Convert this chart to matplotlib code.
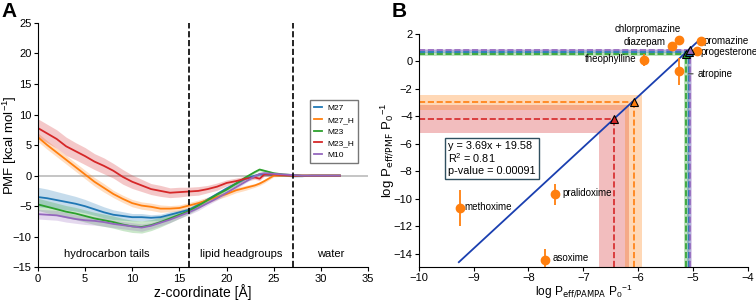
import matplotlib.pyplot as plt
import numpy as np

plt.rcParams["font.family"] = "Liberation Sans"
plt.rcParams["mathtext.default"] = "regular"
plt.rcParams["font.size"] = 8

# ---- panel A data: PMF profiles ----
z = [0, 1, 2, 3, 4, 5, 6, 7, 8, 9, 10, 11, 12, 13, 14, 15, 16, 17, 18,
     19, 20, 21, 22, 23, 23.5, 24, 25, 26, 27, 28, 29, 30, 31, 32]
series = ["M27", "M27_H", "M23", "M23_H", "M10"]
colors = ["#1f77b4", "#ff7f0e", "#2ca02c", "#d62728", "#9467bd"]

pmf_m27 = [-3.5, -3.7, -4.0, -4.3, -4.6, -5.0, -5.5, -6.0, -6.4, -6.6, -6.8, -6.8,
           -6.9, -6.8, -6.4, -6.0, -5.6, -4.8, -3.9, -3.0, -2.1, -1.3, -0.5, 0.0,
           0.2, 0.2, 0.1, 0.0, -0.1, -0.1, 0.0, 0.0, 0.0, 0.0]
pmf_m27h = [6.3, 5.0, 3.8, 2.6, 1.4, 0.2, -1.0, -2.0, -3.0, -3.8, -4.5, -4.9,
            -5.1, -5.4, -5.4, -5.3, -4.9, -4.5, -4.0, -3.5, -3.0, -2.4, -2.0, -1.6,
            -1.3, -0.9, 0.0, 0.0, 0.0, 0.0, 0.0, 0.0, 0.0, 0.0]
pmf_m23 = [-4.7, -5.1, -5.5, -5.9, -6.2, -6.6, -7.0, -7.3, -7.6, -8.0, -8.3, -8.4,
           -8.1, -7.6, -7.0, -6.4, -5.8, -4.9, -4.0, -3.1, -2.3, -1.3, -0.3, 0.6,
           1.0, 0.8, 0.4, 0.2, 0.1, 0.0, 0.0, 0.0, 0.0, 0.0]
pmf_m23h = [7.8, 6.9, 6.0, 4.8, 4.0, 3.2, 2.3, 1.6, 0.8, -0.2, -1.0, -1.6,
            -2.2, -2.5, -2.8, -2.7, -2.6, -2.5, -2.2, -1.8, -1.2, -0.9, -0.5, -0.3,
            -0.5, 0.2, 0.2, 0.1, 0.0, 0.0, 0.0, 0.0, 0.0, 0.0]
pmf_m10 = [-6.3, -6.4, -6.5, -6.8, -7.1, -7.3, -7.4, -7.6, -7.9, -8.1, -8.3, -8.5,
           -8.2, -7.7, -7.2, -6.6, -6.0, -5.3, -4.5, -3.7, -2.8, -1.9, -1.0, -0.1,
           0.3, 0.4, 0.3, 0.2, 0.1, 0.0, 0.0, 0.0, 0.0, 0.0]
pmf = [pmf_m27, pmf_m27h, pmf_m23, pmf_m23h, pmf_m10]

# half-width of the shaded bands at the same z points
err_m27 = [1.6, 1.5, 1.4, 1.3, 1.2, 1.1, 1.0, 0.9, 0.8, 0.7, 0.6, 0.6, 0.5, 0.5,
           0.5, 0.4, 0.4, 0.4, 0.3, 0.3, 0.3, 0.3, 0.2, 0.2, 0.2, 0.2, 0.1, 0.1,
           0.1, 0.0, 0.0, 0.0, 0.0, 0.0]
err_m27h = [0.7, 0.7, 0.7, 0.7, 0.7, 0.7, 0.7, 0.7, 0.6, 0.6, 0.6, 0.6, 0.6, 0.6,
            0.5, 0.5, 0.5, 0.5, 0.5, 0.4, 0.4, 0.4, 0.4, 0.3, 0.3, 0.3, 0.2, 0.1,
            0.1, 0.0, 0.0, 0.0, 0.0, 0.0]
err_m23 = [1.0, 1.0, 1.0, 1.0, 1.0, 1.0, 1.0, 1.0, 1.0, 1.0, 1.0, 1.0, 0.9, 0.8,
           0.7, 0.6, 0.5, 0.5, 0.4, 0.4, 0.3, 0.3, 0.3, 0.2, 0.2, 0.2, 0.1, 0.1,
           0.1, 0.0, 0.0, 0.0, 0.0, 0.0]
err_m23h = [1.5, 1.5, 1.5, 1.5, 1.4, 1.4, 1.3, 1.3, 1.2, 1.2, 1.1, 1.0, 0.9, 0.9,
            0.8, 0.8, 0.7, 0.7, 0.6, 0.6, 0.5, 0.5, 0.4, 0.3, 0.3, 0.3, 0.2, 0.1,
            0.1, 0.0, 0.0, 0.0, 0.0, 0.0]
err_m10 = [0.8, 0.8, 0.8, 0.8, 0.7, 0.7, 0.7, 0.7, 0.6, 0.6, 0.6, 0.6, 0.5, 0.5,
           0.5, 0.4, 0.4, 0.4, 0.3, 0.3, 0.3, 0.3, 0.2, 0.2, 0.2, 0.2, 0.1, 0.1,
           0.1, 0.0, 0.0, 0.0, 0.0, 0.0]
pmf_err = [err_m27, err_m27h, err_m23, err_m23h, err_m10]

region_bounds = [16, 27]
region_names = ["hydrocarbon tails", "lipid headgroups", "water"]
region_x = [7.3, 21.5, 31.0]

# ---- panel B data ----
drugs = ["chlorpromazine", "diazepam", "promazine", "progesterone", "theophylline",
         "atropine", "pralidoxime", "methoxime", "asoxime"]
log_pampa = [-5.25, -5.38, -4.86, -4.92, -5.90, -5.25, -7.51, -9.25, -7.69]
log_pmf = [1.58, 1.10, 1.46, 0.73, 0.12, -0.73, -9.69, -10.67, -14.44]
log_pmf_err = [0.0, 0.0, 0.0, 0.0, 0.45, 0.95, 0.75, 1.3, 0.8]

slope, intercept = 3.69, 19.58
fit_x = [-9.27, -4.93]

# predicted permeabilities for the simulated molecules
pred_x = [-6.44, -6.08, -5.12, -5.07, -5.05]
pred_y = [-4.22, -2.98, 0.55, 0.72, 0.82]
pred_x_err = [0.28, 0.16, 0.05, 0.04, 0.04]
pred_y_err = [1.02, 0.55, 0.15, 0.12, 0.12]
pred_names = ["M23_H", "M27_H", "M23", "M27", "M10"]
pred_colors = ["#d62728", "#ff7f0e", "#2ca02c", "#1f77b4", "#9467bd"]

fig = plt.figure(figsize=(7.56, 3.01), dpi=100)
axA = fig.add_axes([0.050, 0.112, 0.437, 0.812])
axB = fig.add_axes([0.554, 0.112, 0.435, 0.775])

# ---- panel A ----
axA.axhline(0, color="#bbbbbb", lw=1.2, zorder=1)
for name, c, y, e in zip(series, colors, pmf, pmf_err):
    y = np.array(y)
    e = np.array(e)
    axA.fill_between(z, y - e, y + e, color=c, alpha=0.25, lw=0)
    axA.plot(z, y, color=c, lw=1.3, label=name)
for b in region_bounds:
    axA.axvline(b, color="k", ls="--", lw=1.2)
for name, xr in zip(region_names, region_x):
    axA.text(xr, -12.9, name, ha="center", va="center", fontsize=8)
axA.set_xlim(0, 35)
axA.set_ylim(-15, 25)
axA.set_xticks(range(0, 36, 5))
axA.set_yticks(range(-15, 26, 5))
axA.set_xlabel("z-coordinate [Å]", fontsize=10, labelpad=0)
axA.set_ylabel("PMF [kcal mol$^{-1}$]", fontsize=9.5)
axA.yaxis.set_label_coords(-0.058, 0.5)
leg = axA.legend(loc="upper left", bbox_to_anchor=(0.81, 0.70), fontsize=6,
                 handlelength=1.0, handletextpad=0.6, frameon=True, fancybox=False,
                 borderpad=0.5, labelspacing=0.45)
leg.get_frame().set_edgecolor("#555555")
for s in ["top", "right"]:
    axA.spines[s].set_visible(False)
fig.text(0.002, 0.995, "A", fontsize=15, fontweight="bold", va="top", ha="left")

# ---- panel B ----
for px, py, ex, ey, c in zip(pred_x, pred_y, pred_x_err, pred_y_err, pred_colors):
    axB.fill_between([-10, px + ex], py - ey, py + ey, color=c, alpha=0.3, lw=0)
    axB.fill_between([px - ex, px + ex], -15, py - ey, color=c, alpha=0.3, lw=0)
    axB.plot([-10, px], [py, py], color=c, ls="--", lw=1.2)
    axB.plot([px, px], [-15, py], color=c, ls="--", lw=1.2)

fx = np.array(fit_x)
axB.plot(fx, slope * fx + intercept, color="#1a3fb0", lw=1.3, zorder=4)

for px, py, c in zip(pred_x, pred_y, pred_colors):
    axB.plot(px, py, marker="^", ms=6, color=c, mec="k", mew=0.8, zorder=6)

axB.errorbar(log_pampa, log_pmf, yerr=log_pmf_err, fmt="o", color="#ff7f0e",
             ms=6, elinewidth=1.3, capsize=0, zorder=5)

# drug labels
lab_fs = 7
axB.text(-5.82, 2.36, "chlorpromazine", ha="center", va="center", clip_on=False,
         fontsize=lab_fs)
axB.text(-5.49, 1.41, "diazepam", ha="right", va="center", fontsize=lab_fs)
axB.text(-4.80, 1.46, "promazine", ha="left", va="center", fontsize=lab_fs)
axB.text(-4.87, 0.70, "progesterone", ha="left", va="center", fontsize=lab_fs)
axB.text(-6.03, 0.15, "theophylline", ha="right", va="center", fontsize=lab_fs)
axB.annotate("atropine", xy=(-5.08, -0.9), xytext=(-4.92, -0.9), ha="left",
             va="center", fontsize=lab_fs,
             arrowprops=dict(arrowstyle="-", lw=0.8, color="#444444",
                             shrinkA=1, shrinkB=0))
axB.text(-7.38, -9.6, "pralidoxime", ha="left", va="center", fontsize=lab_fs)
axB.text(-9.16, -10.6, "methoxime", ha="left", va="center", fontsize=lab_fs)
axB.text(-7.56, -14.3, "asoxime", ha="left", va="center", fontsize=lab_fs)

axB.text(-9.46, -5.78, "y = 3.69x + 19.58\nR$^2$ = 0.81\np-value = 0.00091",
         ha="left", va="top", fontsize=7.8, linespacing=1.05,
         bbox=dict(boxstyle="square,pad=0.3", fc="white", ec="#2f4f5f", lw=1))

axB.set_xlim(-10, -4)
axB.set_ylim(-15, 2)
axB.set_xticks(range(-10, -3))
axB.set_yticks(range(-14, 3, 2))
axB.set_xlabel(r"log P$_{\rm eff/PAMPA}$ P$_0$$^{-1}$", fontsize=8.6)
axB.xaxis.set_label_coords(0.5, -0.066)
axB.set_ylabel(r"log P$_{\rm eff/PMF}$ P$_0$$^{-1}$", fontsize=9.5)
axB.yaxis.set_label_coords(-0.07, 0.5)
for s in ["top", "right"]:
    axB.spines[s].set_visible(False)
fig.text(0.518, 0.995, "B", fontsize=15, fontweight="bold", va="top", ha="left")

for ax in (axA, axB):
    ax.tick_params(labelsize=8, length=3, pad=1.5)
axB.tick_params(axis="x", pad=1)

fig.savefig("out.png", dpi=100)
